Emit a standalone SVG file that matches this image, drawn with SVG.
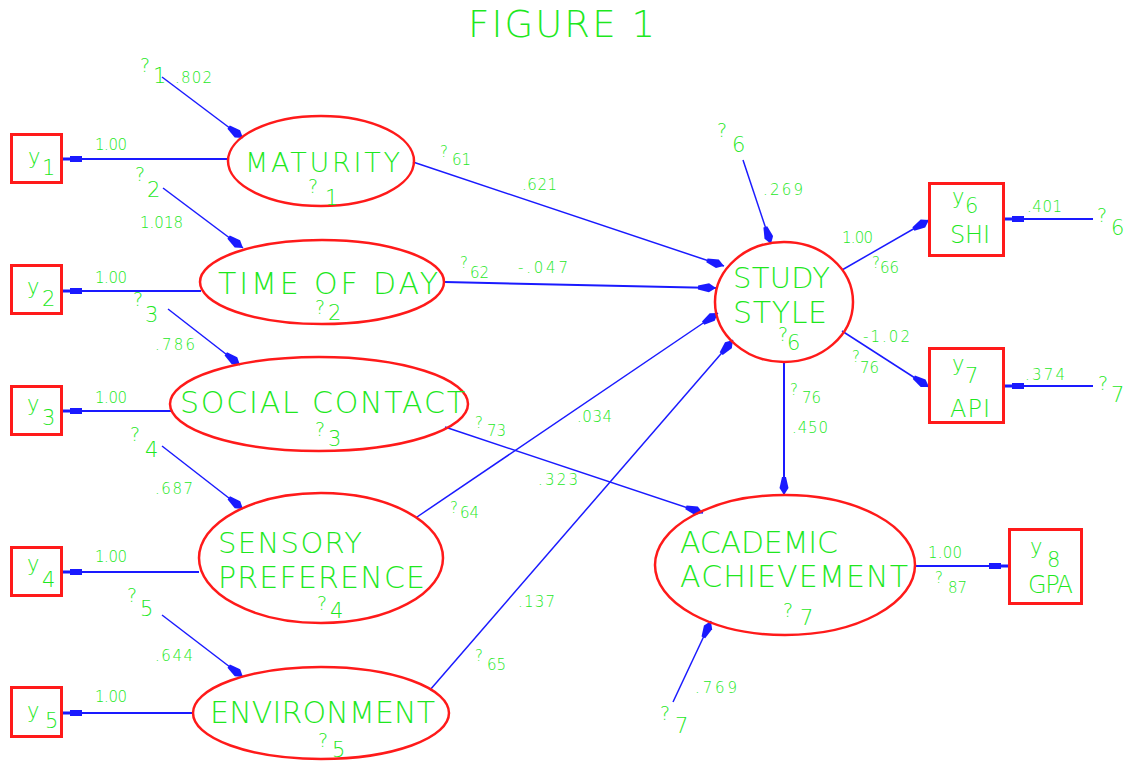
<svg xmlns="http://www.w3.org/2000/svg" width="1128" height="762" viewBox="0 0 1128 762">
<style>
.bg{fill:#ffffff}
.lat{fill:none;stroke:#ff1a1a;stroke-width:2.5}
.obs{fill:none;stroke:#ff1a1a;stroke-width:3}
.c{fill:none;stroke:#1a1aff;stroke-width:1.5}
.ld{fill:none;stroke:#1a1aff;stroke-width:2}
text{font-family:"DejaVu Sans","Liberation Sans",sans-serif;font-weight:200;fill:#1ee81e}
.big{font-size:30px}
.sm{font-size:15px}
.q{font-size:19px}
.d{font-size:21px}
.qs{font-size:15px}
</style>
<defs>
<marker id="kite" markerUnits="userSpaceOnUse" markerWidth="22" markerHeight="12" viewBox="-20 -6 21 12" refX="0" refY="0" orient="auto">
<path d="M0,0 L-7,-4.5 L-18,-2 L-18,2 L-7,4.5 Z" fill="#1a1aff"/>
</marker>
<marker id="blob" markerUnits="userSpaceOnUse" markerWidth="22" markerHeight="8" viewBox="-21 -4 22 8" refX="0" refY="0" orient="auto">
<path d="M0,-1.5 L-7,-1.5 L-7,-3 L-19,-3 L-19,3 L-7,3 L-7,1.5 L0,1.5 Z" fill="#1a1aff"/>
</marker>
</defs>
<rect class="bg" x="0" y="0" width="1128" height="762"/>
<text x="468" y="37" style="font-size:37px" textLength="187" lengthAdjust="spacing">FIGURE 1</text>

<g id="connectors">
<path class="ld" d="M229,159 L63,159" marker-end="url(#blob)"/>
<path class="ld" d="M201,291 L63,291" marker-end="url(#blob)"/>
<path class="ld" d="M171,411 L63,411" marker-end="url(#blob)"/>
<path class="ld" d="M199,572 L63,572" marker-end="url(#blob)"/>
<path class="ld" d="M194,713 L63,713" marker-end="url(#blob)"/>
<path class="ld" d="M1093,219 L1005,219" marker-end="url(#blob)"/>
<path class="ld" d="M1093,386 L1005,386" marker-end="url(#blob)"/>
<path class="ld" d="M915,566 L1008,566" marker-end="url(#blob)"/>
<path class="c" d="M162,77 L243,138" marker-end="url(#kite)"/>
<path class="c" d="M163,188 L243,248" marker-end="url(#kite)"/>
<path class="c" d="M168,309 L240,365" marker-end="url(#kite)"/>
<path class="c" d="M162,446 L243,509" marker-end="url(#kite)"/>
<path class="c" d="M162,615 L243,677" marker-end="url(#kite)"/>
<path class="c" d="M743,160 L771,244" marker-end="url(#kite)"/>
<path class="c" d="M673,702 L711,621" marker-end="url(#kite)"/>
<path class="c" d="M413,162 L724,266" marker-end="url(#kite)"/>
<path class="ld" d="M445,282 L716,288" marker-end="url(#kite)"/>
<path class="c" d="M417,517 L718,313" marker-end="url(#kite)"/>
<path class="c" d="M430,690 L733,340" marker-end="url(#kite)"/>
<path class="c" d="M445,427 L703,513" marker-end="url(#kite)"/>
<path class="ld" d="M784,362 L784,495" marker-end="url(#kite)"/>
<path class="c" d="M842,270 L929,220" marker-end="url(#kite)"/>
<path class="c" d="M842,331 L929,387" marker-end="url(#kite)"/>
</g>

<g id="labels">
<text class="q" x="140" y="72">?</text><text class="d" x="153" y="83">1</text>
<text class="sm" x="175" y="83" textLength="37" lengthAdjust="spacing">.802</text>
<text class="sm" x="95" y="150" textLength="32" lengthAdjust="spacing">1.00</text>
<text class="q" x="135" y="181">?</text><text class="d" x="147" y="197">2</text>
<text class="sm" x="140" y="228" textLength="43" lengthAdjust="spacing">1.018</text>
<text class="sm" x="95" y="283" textLength="32" lengthAdjust="spacing">1.00</text>
<text class="q" x="133" y="306">?</text><text class="d" x="145" y="322">3</text>
<text class="sm" x="155" y="350" textLength="40" lengthAdjust="spacing">.786</text>
<text class="sm" x="95" y="403" textLength="32" lengthAdjust="spacing">1.00</text>
<text class="q" x="130" y="441">?</text><text class="d" x="145" y="457">4</text>
<text class="sm" x="155" y="494" textLength="38" lengthAdjust="spacing">.687</text>
<text class="sm" x="95" y="562" textLength="32" lengthAdjust="spacing">1.00</text>
<text class="q" x="127" y="602">?</text><text class="d" x="140" y="616">5</text>
<text class="sm" x="155" y="661" textLength="38" lengthAdjust="spacing">.644</text>
<text class="sm" x="95" y="702" textLength="32" lengthAdjust="spacing">1.00</text>
<text class="qs" x="440" y="157">?</text><text class="sm" x="452" y="165">61</text>
<text class="sm" x="522" y="190" textLength="35" lengthAdjust="spacing">.621</text>
<text class="qs" x="460" y="268">?</text><text class="sm" x="470" y="278">62</text>
<text class="sm" x="518" y="273" textLength="50" lengthAdjust="spacing">-.047</text>
<text class="qs" x="475" y="428">?</text><text class="sm" x="487" y="436">73</text>
<text class="sm" x="538" y="485" textLength="40" lengthAdjust="spacing">.323</text>
<text class="sm" x="577" y="422" textLength="35" lengthAdjust="spacing">.034</text>
<text class="qs" x="450" y="513">?</text><text class="sm" x="460" y="518">64</text>
<text class="sm" x="518" y="607" textLength="37" lengthAdjust="spacing">.137</text>
<text class="qs" x="475" y="661">?</text><text class="sm" x="487" y="670">65</text>
<text class="q" x="717" y="137">?</text><text class="d" x="732" y="152">6</text>
<text class="sm" x="763" y="195" textLength="40" lengthAdjust="spacing">.269</text>
<text class="sm" x="842" y="243" textLength="31" lengthAdjust="spacing">1.00</text>
<text class="qs" x="872" y="268">?</text><text class="sm" x="880" y="273">66</text>
<text class="sm" x="863" y="342" textLength="47" lengthAdjust="spacing">-1.02</text>
<text class="qs" x="852" y="362">?</text><text class="sm" x="860" y="373">76</text>
<text class="qs" x="790" y="395">?</text><text class="sm" x="802" y="403">76</text>
<text class="sm" x="792" y="433" textLength="36" lengthAdjust="spacing">.450</text>
<text class="sm" x="1027" y="212" textLength="35" lengthAdjust="spacing">.401</text>
<text class="q" x="1097" y="222">?</text><text class="d" x="1111" y="235">6</text>
<text class="sm" x="1025" y="380" textLength="40" lengthAdjust="spacing">.374</text>
<text class="q" x="1098" y="390">?</text><text class="d" x="1111" y="402">7</text>
<text class="sm" x="928" y="558" textLength="34" lengthAdjust="spacing">1.00</text>
<text class="qs" x="935" y="583">?</text><text class="sm" x="948" y="593">87</text>
<text class="sm" x="695" y="693" textLength="42" lengthAdjust="spacing">.769</text>
<text class="q" x="660" y="720">?</text><text class="d" x="675" y="733">7</text>
</g>

<g id="y1"><rect class="obs" x="11.5" y="134.5" width="50" height="48"/><text class="d" x="28" y="164">y</text><text class="d" x="42" y="175">1</text></g>
<g id="y2"><rect class="obs" x="11.5" y="265.5" width="50" height="48"/><text class="d" x="27" y="294">y</text><text class="d" x="42" y="306">2</text></g>
<g id="y3"><rect class="obs" x="11.5" y="386.5" width="50" height="48"/><text class="d" x="27" y="411">y</text><text class="d" x="42" y="425">3</text></g>
<g id="y4"><rect class="obs" x="11.5" y="547.5" width="50" height="48"/><text class="d" x="27" y="571">y</text><text class="d" x="42" y="587">4</text></g>
<g id="y5"><rect class="obs" x="11.5" y="687.5" width="50" height="49"/><text class="d" x="27" y="718">y</text><text class="d" x="45" y="728">5</text></g>
<g id="y6"><rect class="obs" x="929.5" y="183.5" width="74" height="72"/><text class="d" x="952" y="204">y</text><text class="d" x="965" y="213">6</text><text style="font-size:24px" x="950" y="243" textLength="40" lengthAdjust="spacing">SHI</text></g>
<g id="y7"><rect class="obs" x="929.5" y="348.5" width="74" height="74"/><text class="d" x="952" y="371">y</text><text class="d" x="965" y="383">7</text><text style="font-size:24px" x="950" y="417" textLength="40" lengthAdjust="spacing">API</text></g>
<g id="y8"><rect class="obs" x="1009.5" y="529.5" width="72" height="74"/><text class="d" x="1030" y="554">y</text><text class="d" x="1047" y="567">8</text><text style="font-size:24px" x="1028" y="593" textLength="45" lengthAdjust="spacing">GPA</text></g>

<g id="maturity"><ellipse class="lat" cx="321" cy="161" rx="93" ry="45"/><text style="font-size:27px" x="245" y="172" textLength="155" lengthAdjust="spacing">MATURITY</text><text class="q" x="308" y="193">?</text><text class="d" x="325" y="205">1</text></g>
<g id="timeofday"><ellipse class="lat" cx="322" cy="282" rx="122" ry="42"/><text class="big" x="218" y="294" textLength="220" lengthAdjust="spacing">TIME OF DAY</text><text class="q" x="315" y="314">?</text><text class="d" x="328" y="320">2</text></g>
<g id="social"><ellipse class="lat" cx="319" cy="404" rx="149" ry="47"/><text class="big" x="180" y="413" textLength="285" lengthAdjust="spacing">SOCIAL CONTACT</text><text class="q" x="315" y="436">?</text><text class="d" x="328" y="446">3</text></g>
<g id="sensory"><ellipse class="lat" cx="321" cy="558" rx="122" ry="65"/><text style="font-size:29px" x="218" y="553" textLength="144" lengthAdjust="spacing">SENSORY</text><text class="big" x="218" y="588" textLength="207" lengthAdjust="spacing">PREFERENCE</text><text class="q" x="317" y="610">?</text><text class="d" x="330" y="618">4</text></g>
<g id="environment"><ellipse class="lat" cx="321" cy="713" rx="128" ry="46"/><text class="big" x="210" y="723" textLength="225" lengthAdjust="spacing">ENVIRONMENT</text><text class="q" x="318" y="747">?</text><text class="d" x="332" y="757">5</text></g>
<g id="studystyle"><ellipse class="lat" cx="784" cy="302" rx="69" ry="60"/><text style="font-size:29px" x="733" y="288" textLength="97" lengthAdjust="spacing">STUDY</text><text class="big" x="733" y="323" textLength="94" lengthAdjust="spacing">STYLE</text><text class="q" x="778" y="341">?</text><text class="d" x="787" y="350">6</text></g>
<g id="academic"><ellipse class="lat" cx="785" cy="565" rx="130" ry="70"/><text class="big" x="680" y="553" textLength="158" lengthAdjust="spacing">ACADEMIC</text><text class="big" x="680" y="587" textLength="228" lengthAdjust="spacing">ACHIEVEMENT</text><text class="q" x="783" y="617">?</text><text class="d" x="800" y="625">7</text></g>
</svg>
